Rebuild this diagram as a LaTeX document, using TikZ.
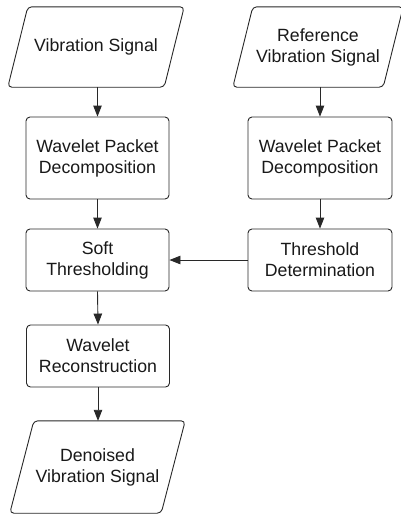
\documentclass[tikz,border=0pt]{standalone}
\usepackage{fontspec}
\setmainfont{Liberation Sans}
\usetikzlibrary{arrows.meta,calc}
\begin{document}
\begin{tikzpicture}[x=1pt,y=-1pt,
  line col/.style={draw={rgb,255:red,40;green,40;blue,40}},
  txt/.style={font=\fontsize{17.7}{21}\selectfont, align=center, text={rgb,255:red,25;green,25;blue,25}},
  procbox/.style={txt, line col, rectangle, rounded corners=4pt, line width=0.9pt, minimum width=143pt, minimum height=62pt, inner sep=0pt},
  iobox/.style={txt, rectangle, inner sep=0pt},
  iopath/.style={line col, line width=0.9pt, rounded corners=4pt},
  conn/.style={line col, line width=0.9pt, -{Triangle[length=11pt,width=8.5pt]}}
]
\useasboundingbox (0,0) rectangle (401,515);
\fill[white] (0,0) rectangle (401,515);

% left column
\node[iobox, minimum width=176pt, minimum height=80pt] (vs) at (96,47) {Vibration Signal};
\node[procbox, minimum height=82pt] (wpd1) at (97.5,158) {Wavelet Packet\\Decomposition};
\node[procbox] (soft) at (97.5,260) {Soft\\Thresholding};
\node[procbox] (rec) at (98,356) {Wavelet\\Reconstruction};
\node[iobox, minimum width=175pt, minimum height=92pt] (den) at (97.5,467) {Denoised\\Vibration Signal};

% right column
\node[iobox, minimum width=170pt, minimum height=80pt] (ref) at (318,47) {Reference\\Vibration Signal};
\node[procbox, minimum width=144pt, minimum height=82pt] (wpd2) at (320,158) {Wavelet Packet\\Decomposition};
\node[procbox, minimum width=144pt] (thr) at (320,260) {Threshold\\Determination};

% parallelogram outlines
\draw[iopath] (vs.south west) -- ($(vs.north west)+(20,0)$) -- (vs.north east) -- ($(vs.south east)+(-20,0)$) -- cycle;
\draw[iopath] (ref.south west) -- ($(ref.north west)+(20,0)$) -- (ref.north east) -- ($(ref.south east)+(-20,0)$) -- cycle;
\draw[iopath] (den.south west) -- ($(den.north west)+(24,0)$) -- (den.north east) -- ($(den.south east)+(-24,0)$) -- cycle;

% connectors
\draw[conn] (vs.south -| wpd1.north) -- (wpd1.north);
\draw[conn] (wpd1.south) -- (soft.north);
\draw[conn] (soft.south) -- (rec.north);
\draw[conn] (rec.south) -- (rec.south |- den.north);
\draw[conn] (ref.south -| wpd2.north) -- (wpd2.north);
\draw[conn] (wpd2.south) -- (thr.north);
\draw[conn] (thr.west) -- (soft.east);
\end{tikzpicture}
\end{document}
